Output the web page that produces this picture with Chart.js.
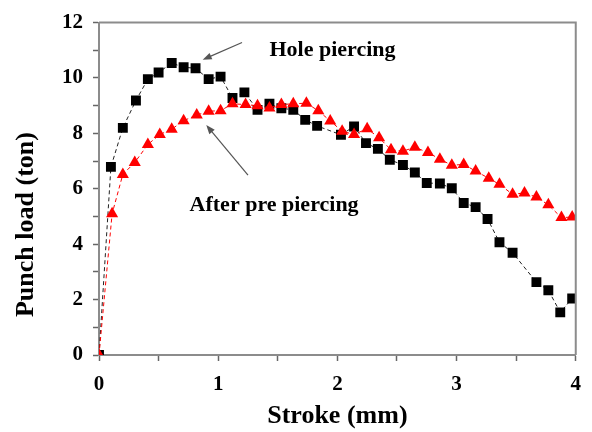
<!DOCTYPE html>
<html>
<head>
<meta charset="utf-8">
<script src="https://cdn.jsdelivr.net/npm/chart.js@4.4.0/dist/chart.umd.min.js"></script>
<style>
  html, body { margin: 0; padding: 0; background: #fff; }
</style>
</head>
<body>
<canvas id="punchChart" width="592" height="432"></canvas>
<script>
/* Hole piercing: stroke (mm) and punch load (ton) */
const holeStroke = [0, 0.10, 0.20, 0.31, 0.41, 0.50, 0.61, 0.71, 0.81, 0.92,
    1.02, 1.12, 1.22, 1.33, 1.43, 1.53, 1.63, 1.73, 1.83,
    2.03, 2.14, 2.24, 2.34, 2.44, 2.55, 2.65, 2.75, 2.86, 2.96,
    3.06, 3.16, 3.26, 3.36, 3.47, 3.67, 3.77, 3.87, 3.97];
const holeLoad = [0, 6.79, 8.20, 9.19, 9.96, 10.20, 10.54, 10.39, 10.35, 9.96,
    10.05, 9.28, 9.48, 8.85, 9.07, 8.91, 8.85, 8.49, 8.27,
    7.95, 8.25, 7.65, 7.44, 7.05, 6.86, 6.59, 6.21, 6.19, 6.02,
    5.49, 5.34, 4.91, 4.07, 3.69, 2.63, 2.34, 1.54, 2.04];

/* After pre piercing */
const preStroke = [0, 0.11, 0.20, 0.30, 0.41, 0.51, 0.61, 0.71, 0.82, 0.92,
    1.02, 1.12, 1.23, 1.33, 1.43, 1.53, 1.63, 1.74, 1.84, 1.94,
    2.04, 2.14, 2.25, 2.35, 2.45, 2.55, 2.65, 2.76, 2.86, 2.96,
    3.06, 3.16, 3.27, 3.36, 3.47, 3.57, 3.67, 3.77, 3.88, 3.97];
const preLoad = [0, 5.10, 6.52, 6.95, 7.60, 7.96, 8.15, 8.46, 8.66, 8.80,
    8.82, 9.07, 9.04, 9.00, 8.92, 9.04, 9.07, 9.09, 8.82, 8.45,
    8.08, 7.96, 8.17, 7.84, 7.41, 7.36, 7.50, 7.31, 7.07, 6.85,
    6.88, 6.64, 6.38, 6.16, 5.80, 5.85, 5.70, 5.42, 4.96, 4.98];

/* Axis ticks */
const strokeTicks = [0, 1, 2, 3, 4];
const loadTicks = [0, 2, 4, 6, 8, 10, 12];

const serif = 'Liberation Serif, Times New Roman, serif';

function toPoints(xs, ys) {
    return xs.map((x, i) => ({ x: x, y: ys[i] }));
}

/* Labels with arrows, placed in data units */
const notes = [
    { text: 'Hole piercing', x: 1.43, y: 11.0, from: [1.20, 11.28], to: [0.87, 10.66] },
    { text: 'After pre piercing', x: 0.76, y: 5.41, from: [1.25, 6.49], to: [0.90, 8.30] }
];

const framePlugin = {
    id: 'frame',
    afterDraw(chart) {
        const ctx = chart.ctx;
        const a = chart.chartArea;
        ctx.save();
        ctx.strokeStyle = '#8c8c8c';
        ctx.lineWidth = 2;
        ctx.beginPath();
        ctx.moveTo(a.left, a.top);
        ctx.lineTo(a.right, a.top);
        ctx.lineTo(a.right, a.bottom);
        ctx.stroke();

        const xs = chart.scales.x;
        const ys = chart.scales.y;
        notes.forEach(n => {
            const x1 = xs.getPixelForValue(n.from[0]);
            const y1 = ys.getPixelForValue(n.from[1]);
            const x2 = xs.getPixelForValue(n.to[0]);
            const y2 = ys.getPixelForValue(n.to[1]);
            const ang = Math.atan2(y2 - y1, x2 - x1);
            ctx.strokeStyle = '#555';
            ctx.fillStyle = '#555';
            ctx.lineWidth = 1.2;
            ctx.beginPath();
            ctx.moveTo(x1, y1);
            ctx.lineTo(x2 - 7 * Math.cos(ang), y2 - 7 * Math.sin(ang));
            ctx.stroke();
            ctx.beginPath();
            ctx.moveTo(x2, y2);
            ctx.lineTo(x2 - 9 * Math.cos(ang) + 3.5 * Math.sin(ang), y2 - 9 * Math.sin(ang) - 3.5 * Math.cos(ang));
            ctx.lineTo(x2 - 9 * Math.cos(ang) - 3.5 * Math.sin(ang), y2 - 9 * Math.sin(ang) + 3.5 * Math.cos(ang));
            ctx.closePath();
            ctx.fill();

            ctx.fillStyle = '#000';
            ctx.font = 'bold 22px ' + serif;
            ctx.textAlign = 'left';
            ctx.textBaseline = 'middle';
            ctx.fillText(n.text, xs.getPixelForValue(n.x), ys.getPixelForValue(n.y));
        });
        ctx.restore();
    }
};

new Chart(document.getElementById('punchChart'), {
    type: 'scatter',
    data: {
        datasets: [{
            label: 'After pre piercing',
            data: toPoints(preStroke, preLoad),
            showLine: true,
            borderColor: '#ff0000',
            borderWidth: 1,
            borderDash: [4, 3],
            pointStyle: 'triangle',
            pointRadius: 7,
            pointHoverRadius: 7,
            pointBackgroundColor: '#ff0000',
            pointBorderWidth: 0,
            clip: 0
        }, {
            label: 'Hole piercing',
            data: toPoints(holeStroke, holeLoad),
            showLine: true,
            borderColor: '#222',
            borderWidth: 1,
            borderDash: [4, 3],
            pointStyle: 'rect',
            pointRadius: 7,
            pointHoverRadius: 7,
            pointBackgroundColor: '#000',
            pointBorderWidth: 0,
            clip: 0
        }]
    },
    options: {
        responsive: false,
        animation: false,
        layout: { padding: { left: 0, top: 22, right: 15, bottom: 0 } },
        plugins: {
            legend: { display: false },
            tooltip: { enabled: false }
        },
        scales: {
            x: {
                type: 'linear',
                min: 0,
                max: 4,
                afterFit: s => { s.height = 77; },
                ticks: {
                    stepSize: 0.5,
                    autoSkip: false,
                    maxRotation: 0,
                    padding: 11,
                    color: '#000',
                    font: { family: serif, size: 21, weight: 'bold' },
                    callback: v => strokeTicks.includes(v) ? v : ''
                },
                grid: { drawOnChartArea: false, tickLength: 6, tickColor: '#666', tickWidth: 1.5 },
                border: { color: '#8c8c8c', width: 2 },
                title: {
                    display: true,
                    text: 'Stroke (mm)',
                    color: '#000',
                    font: { family: serif, size: 26, weight: 'bold' },
                    padding: { top: 3, bottom: 0 }
                }
            },
            y: {
                type: 'linear',
                min: 0,
                max: 12,
                afterFit: s => { s.width = 99; },
                ticks: {
                    stepSize: 1,
                    autoSkip: false,
                    padding: 10,
                    color: '#000',
                    font: { family: serif, size: 21, weight: 'bold' },
                    callback: v => loadTicks.includes(v) ? v : ''
                },
                grid: { drawOnChartArea: false, tickLength: 6, tickColor: '#666', tickWidth: 1.5 },
                border: { color: '#8c8c8c', width: 2 },
                title: {
                    display: true,
                    text: 'Punch load (ton)           ',
                    color: '#000',
                    font: { family: serif, size: 26, weight: 'bold' },
                    padding: { top: 11, bottom: 0 }
                }
            }
        }
    },
    plugins: [framePlugin]
});
</script>
</body>
</html>
